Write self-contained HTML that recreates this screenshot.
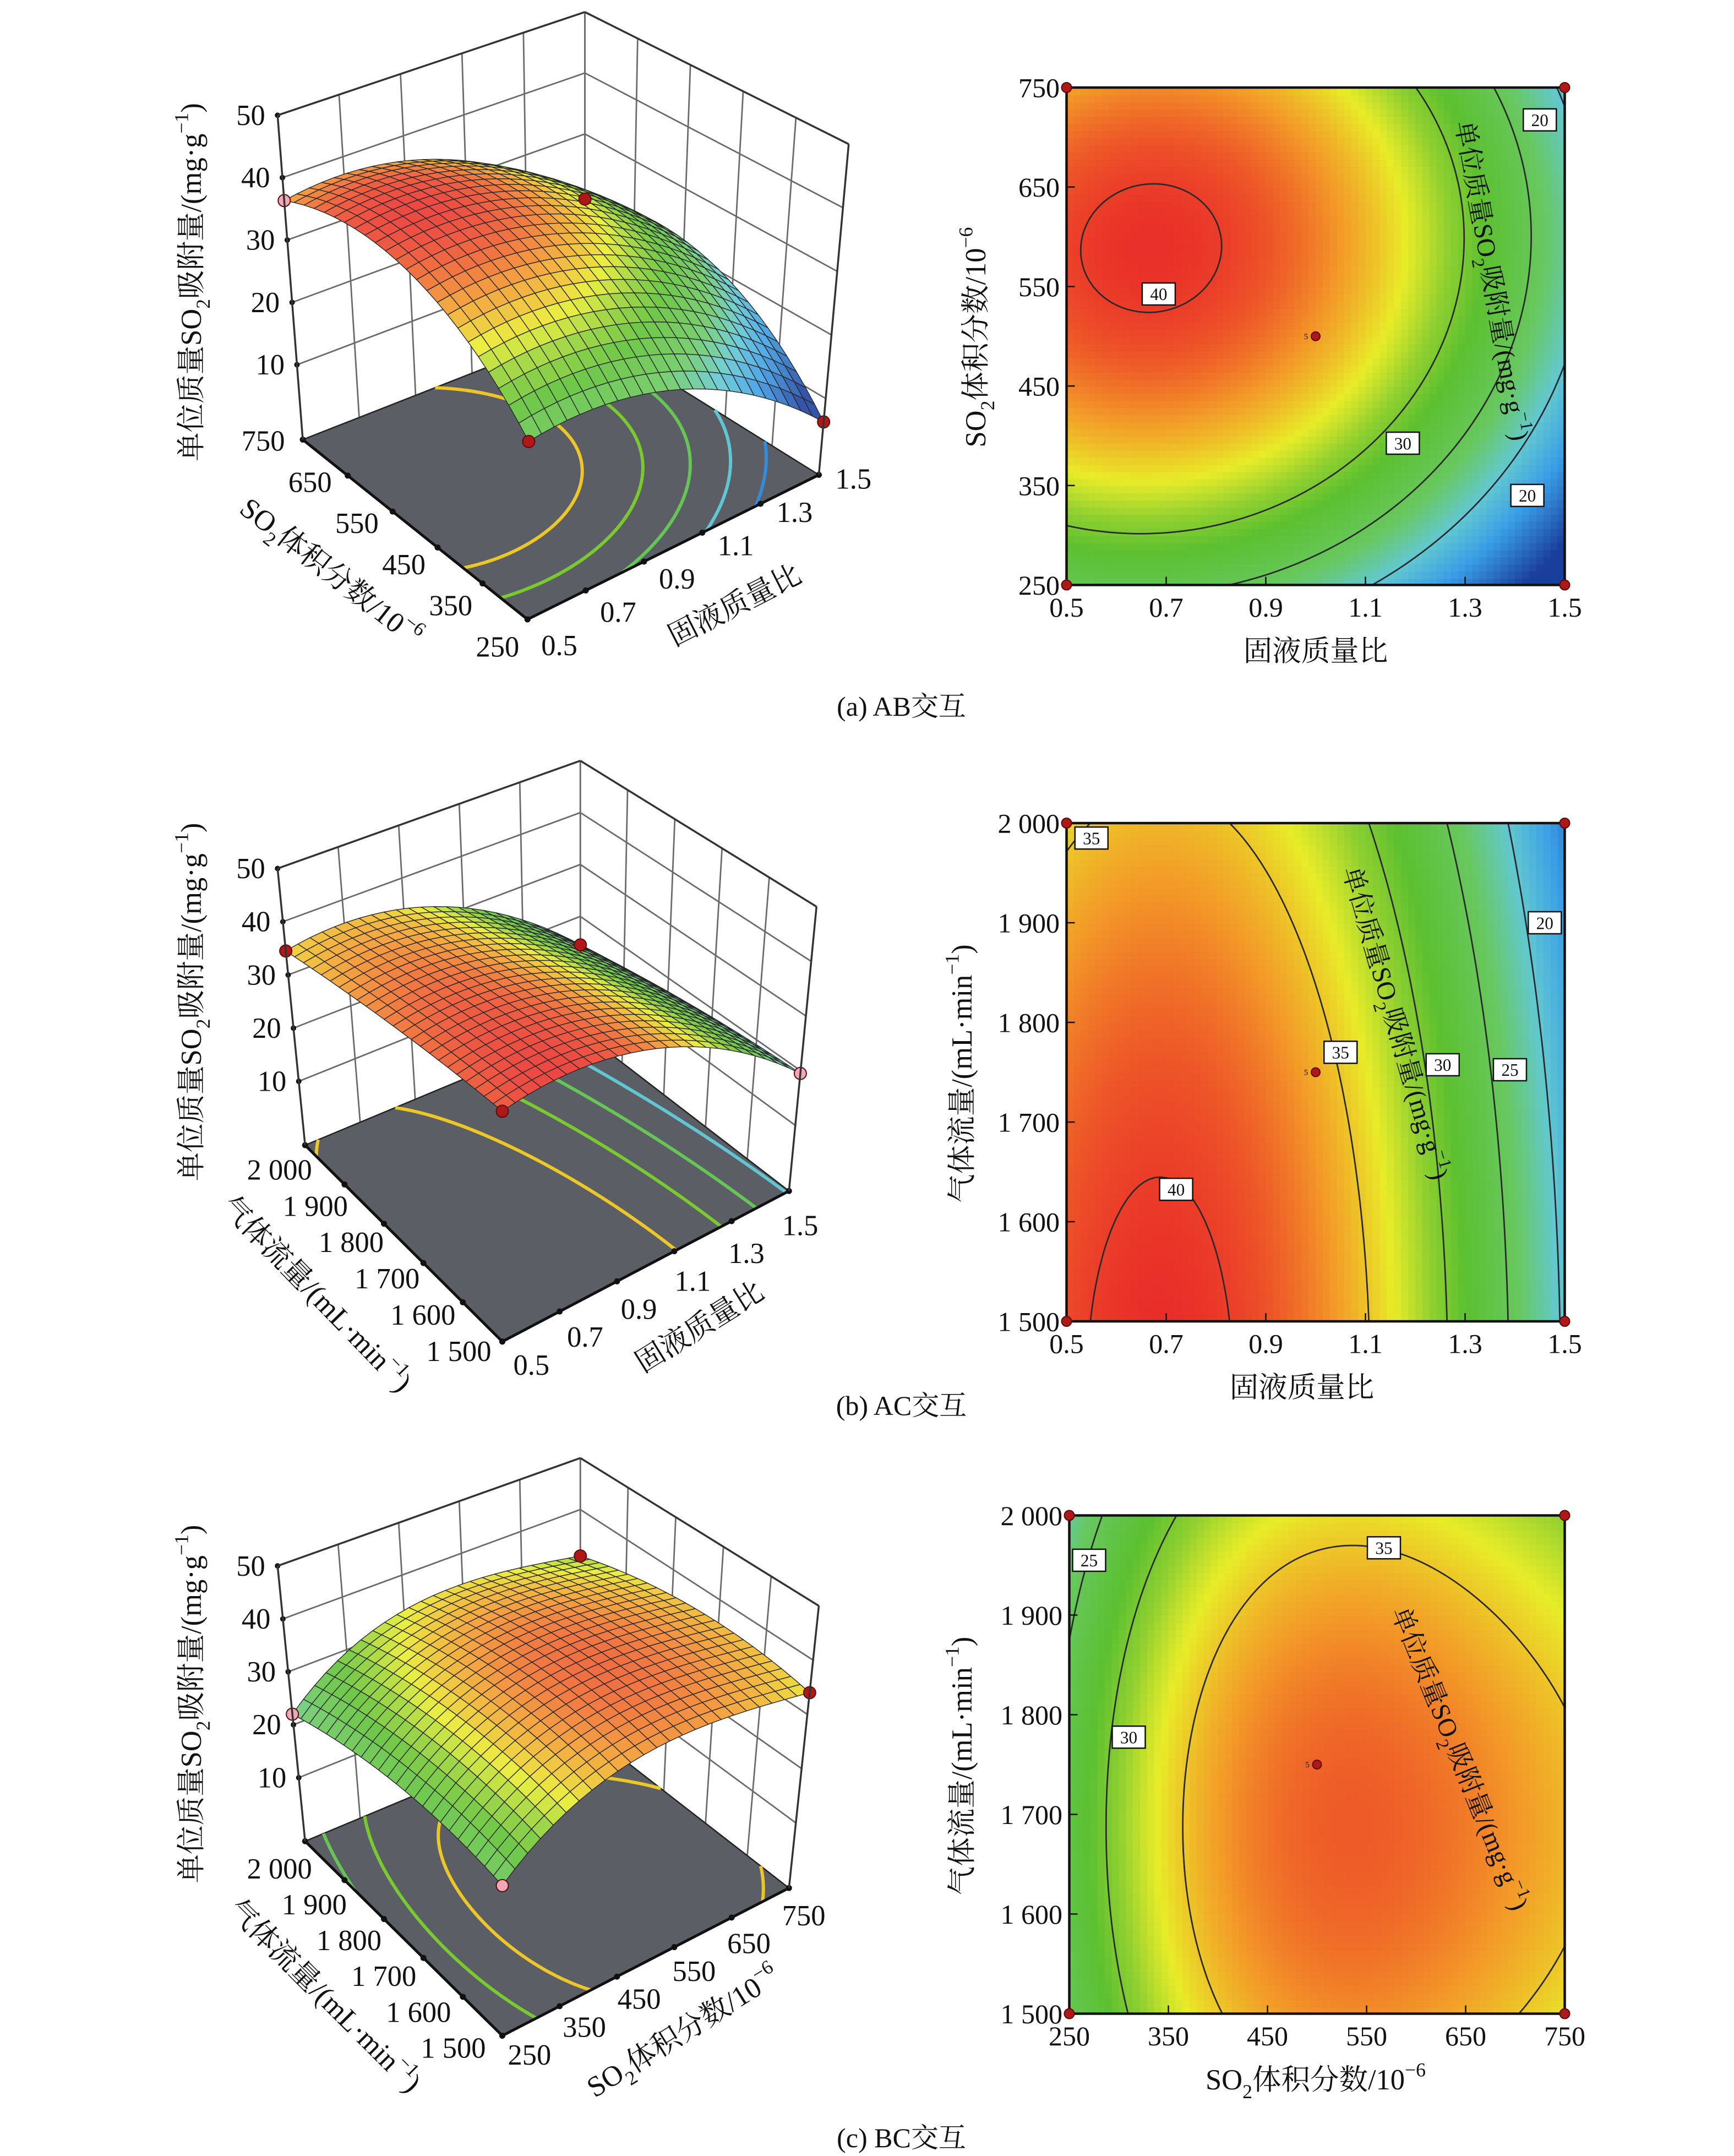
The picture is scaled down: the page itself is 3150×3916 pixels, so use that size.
<!DOCTYPE html>
<html><head><meta charset="utf-8">
<style>
html,body{margin:0;padding:0;background:#fff;}
svg{display:block;}
text{font-family:"Liberation Serif","Noto Serif CJK SC",serif;fill:#111;}
</style></head>
<body>
<svg id="fig" xmlns="http://www.w3.org/2000/svg" width="3150" height="3916" viewBox="0 0 1260 1566.4">
<rect x="0" y="0" width="1260" height="1566.4" fill="#fff"/>
</svg>
<script>
const NS='http://www.w3.org/2000/svg';
const svg=document.getElementById('fig');

// ---- model coefficients (coded -1..1): [b0, b1(x), b2(y), b11(x^2), b22(y^2), b12(xy), b111(x^3)]
const coefAB=[36.5,-9,6,-6.68,-8,0.5,0];
const coefAC=[36,-10,-2.5,-8,-1,0,0];
const coefBC=[38.5,2,-1.5,-7.5,-3,0,2.5];
// ---- contour levels
const levelsAB=[20,25,30,40];
const levelsAC=[20,25,30,35,40];
const levelsBC=[20,25,30,35];
const floorLevelsAB=[15,20,25,30,35];
const floorLevelsAC=[15,20,25,30,35];
const floorLevelsBC=[20,25,30,35];
// ---- tick labels
const ticksA=['0.5','0.7','0.9','1.1','1.3','1.5'];
const ticksB=['250','350','450','550','650','750'];
const ticksC=['1 500','1 600','1 700','1 800','1 900','2 000'];
const zTicks=[10,20,30,40,50];
// ---- contour label values and coded positions
const labelValsAB=['40','30','20','20'];
const labelXAB=[-0.63,0.35,0.9,0.85];
const labelYAB=[0.17,-0.43,0.87,-0.64];
const labelValsAC=['35','20','35','30','25','40'];
const labelXAC=[-0.9,0.92,0.1,0.51,0.78,-0.56];
const labelYAC=[0.94,0.6,0.08,0.03,0.01,-0.47];
const labelValsBC=['25','35','30'];
const labelXBC=[-0.92,0.27,-0.76];
const labelYBC=[0.82,0.87,0.11];

const VMIN=10, VMAX=41;

function model(c,x,y){return c[0]+c[1]*x+c[2]*y+c[3]*x*x+c[4]*y*y+c[5]*x*y+c[6]*x*x*x;}

const stops=[[0,[26,62,156]],[0.2,[58,158,230]],[0.33,[98,200,208]],[0.45,[104,200,96]],[0.6,[92,192,48]],[0.68,[144,208,48]],[0.76,[232,236,40]],[0.86,[243,154,40]],[0.93,[238,90,40]],[1,[232,36,42]]];
function cmap(t,light){
  t=Math.max(0,Math.min(1,t));
  let i=0;while(i<stops.length-2&&t>stops[i+1][0])i++;
  const a=stops[i],b=stops[i+1];const f=(t-a[0])/(b[0]-a[0]);
  const c=a[1].map((v,k)=>v+(b[1][k]-v)*f);
  const l=light||0;
  return 'rgb('+c.map(v=>Math.round(v+(255-v)*l)).join(',')+')';
}
function el(tag,a,p){const e=document.createElementNS(NS,tag);for(const k in a)e.setAttribute(k,a[k]);(p||svg).appendChild(e);return e;}
function rich(s,fs){
  let out='';const re=/\{([_^])(.*?)\}/g;let last=0,m,off=0;
  const push=(txt,dy,size)=>{out+='<tspan'+(dy?' dy="'+dy+'"':'')+(size?' font-size="'+size+'"':'')+'>'+txt+'</tspan>';};
  while((m=re.exec(s))){
    if(m.index>last){push(s.slice(last,m.index),-off||0,null);off=0;}
    const d=m[1]==='_'?0.3*fs:-0.45*fs;
    push(m[2],d,0.68*fs);off=d;last=re.lastIndex;
  }
  if(last<s.length)push(s.slice(last),-off||0,null);
  return out;
}
function txt(x,y,s,fs,anchor,rot,p){
  const t=el('text',{x:x,y:y,'font-size':fs,'text-anchor':anchor||'middle'},p);
  if(rot)t.setAttribute('transform','rotate('+rot+' '+x+' '+y+')');
  t.innerHTML=rich(s,fs);
  return t;
}
// marching squares
function contourPath(c,level,N,map){
  const v=[];for(let i=0;i<=N;i++){v[i]=[];for(let j=0;j<=N;j++)v[i][j]=model(c,-1+2*i/N,-1+2*j/N);}
  let d='';
  const pt=(i1,j1,i2,j2)=>{const a=v[i1][j1],b=v[i2][j2];const t=(level-a)/(b-a);
    const x=-1+2*(i1+(i2-i1)*t)/N,y=-1+2*(j1+(j2-j1)*t)/N;return map(x,y);};
  for(let i=0;i<N;i++)for(let j=0;j<N;j++){
    const cs=[[i,j],[i+1,j],[i+1,j+1],[i,j+1]];const ps=[];
    for(let k=0;k<4;k++){const A=cs[k],B=cs[(k+1)%4];const a=v[A[0]][A[1]],b=v[B[0]][B[1]];
      if((a<level)!==(b<level))ps.push(pt(A[0],A[1],B[0],B[1]));}
    for(let k=0;k+1<ps.length;k+=2)d+='M'+ps[k][0].toFixed(2)+' '+ps[k][1].toFixed(2)+'L'+ps[k+1][0].toFixed(2)+' '+ps[k+1][1].toFixed(2);
  }
  return d;
}

// ================= 2D contour plots =================
function draw2D(cfg){
  const g=el('g',{});
  
  
  const {x0,x1,y0,y1,coef}=cfg;
  const map=(x,y)=>[x0+(x+1)/2*(x1-x0),y1-(y+1)/2*(y1-y0)];
  const N=70,cw=(x1-x0)/N,ch=(y1-y0)/N;
  const hg=el('g',{},g);
  
  
  for(let i=0;i<N;i++)for(let j=0;j<N;j++){
    const val=model(coef,-1+2*(i+.5)/N,-1+2*(j+.5)/N);
    const r=el('rect',{x:(x0+i*cw).toFixed(2),y:(y1-(j+1)*ch).toFixed(2),width:(cw+0.6).toFixed(2),height:(ch+0.6).toFixed(2),fill:cmap((val-VMIN)/(VMAX-VMIN))},hg);
    
    
  }
  const cl=el('rect',{x:x1,y:y0-2,width:6,height:y1-y0+6,fill:'#fff'},g);
  
  
  const cl2=el('rect',{x:x0-2,y:y1,width:x1-x0+8,height:4,fill:'#fff'},g);
  
  
  cfg.levels.forEach(lv=>{
    const p=el('path',{d:contourPath(coef,lv,90,map),stroke:'#2a2a2a','stroke-width':1.1,fill:'none'},g);
    
    
  });
  const fr=el('rect',{x:x0,y:y0,width:x1-x0,height:y1-y0,fill:'none',stroke:'#111','stroke-width':1.8},g);
  
  
  for(let k=0;k<6;k++){
    const xx=x0+k*(x1-x0)/5,yy=y1-k*(y1-y0)/5;
    const t1=el('line',{x1:xx,y1:y1,x2:xx,y2:y1-6,stroke:'#111','stroke-width':1},g);
    
    
    const t2=el('line',{x1:x0,y1:yy,x2:x0+6,y2:yy,stroke:'#111','stroke-width':1},g);
    
    
    const lx=txt(xx,y1+23,cfg.xt[k],20,'middle',0,g);
    
    
    const ly=txt(x0-5,yy+7,cfg.yt[k],20,'end',0,g);
    
    
  }
  [[-1,-1],[1,-1],[-1,1],[1,1]].forEach(c=>{const p=map(c[0],c[1]);
    const d=el('circle',{cx:p[0],cy:p[1],r:3.6,fill:'#b01818',stroke:'#5a0a0a','stroke-width':0.8},g);
    
    });
  const cp=map(0,0);
  const cd=el('circle',{cx:cp[0],cy:cp[1],r:3.2,fill:'#b01818',stroke:'#5a0a0a','stroke-width':0.8},g);
  
  
  const c5=txt(cp[0]-7,cp[1]+2,'5',6,'middle',0,g);
  
  
  cfg.lv.forEach((s,k)=>{const p=map(cfg.lx[k],cfg.ly[k]);
    const r=el('rect',{x:p[0]-12,y:p[1]-8,width:24,height:16,fill:'#fff',stroke:'#111','stroke-width':1},g);
    
    
    const t=txt(p[0],p[1]+4.5,s,12.5,'middle',0,g);
    
    
  });
  const inl=txt(cfg.inl[0],cfg.inl[1],'单位质量SO{_2}吸附量/(mg·g{^−1})',19,'middle',cfg.inl[2],g);
  
  
  const xt=txt(cfg.xtitle[0],cfg.xtitle[1],cfg.xtitle[2],21,'middle',0,g);
  
  
  const yt=txt(cfg.ytitle[0],cfg.ytitle[1],cfg.ytitle[2],21,'middle',-90,g);
  
  
}

// ================= 3D surface plots =================
function lerp(a,b,t){return [a[0]+(b[0]-a[0])*t,a[1]+(b[1]-a[1])*t];}
function bil(q,u,v){return lerp(lerp(q[0],q[1],u),lerp(q[2],q[3],u),v);}
function draw3D(cfg){
  const g=el('g',{});
  
  
  const F=cfg.F,T=cfg.T;
  const P=(u,v,z)=>{const w=(z+2)/52;return lerp(bil(F,u,v),bil(T,u,v),w);};
  const L=(a,b,attrs,name)=>{const l=el('line',Object.assign({x1:a[0].toFixed(2),y1:a[1].toFixed(2),x2:b[0].toFixed(2),y2:b[1].toFixed(2)},attrs),g);
    
    return l;};
  const gs={stroke:'#6a6a6a','stroke-width':1.1};
  for(let k=0;k<=5;k++){
    L(P(k/5,1,-2),P(k/5,1,50),gs,'back-wall-gridline');
    L(P(1,k/5,-2),P(1,k/5,50),gs,'side-wall-gridline');
  }
  zTicks.forEach(z=>{
    L(P(0,1,z),P(1,1,z),gs,'back-wall-z-gridline');
    L(P(1,0,z),P(1,1,z),gs,'side-wall-z-gridline');
    const p=P(0,1,z);
    const d=el('circle',{cx:p[0],cy:p[1],r:2,fill:'#111'},g);
    
    
    const t=txt(p[0]-9,p[1]+7,String(z),21,'end',0,g);
    
    
  });
  const fc=[P(0,0,-2),P(1,0,-2),P(1,1,-2),P(0,1,-2)];
  const fl=el('polygon',{points:fc.map(p=>p.join(',')).join(' '),fill:'#5b5e64',stroke:'#222','stroke-width':1},g);
  
  
  cfg.floorLevels.forEach(lv=>{
    const p=el('path',{d:contourPath(cfg.coef,lv,70,(x,y)=>P((x+1)/2,(y+1)/2,-2)),stroke:cmap((lv-VMIN)/(VMAX-VMIN)),'stroke-width':2.4,fill:'none'},g);
    
    
  });
  L(fc[0],fc[3],{stroke:'#111','stroke-width':2},'v-axis-line');
  L(fc[0],fc[1],{stroke:'#111','stroke-width':2},'u-axis-line');
  for(let k=0;k<6;k++){
    const pv=P(0,k/5,-2),pu=P(k/5,0,-2);
    [pv,pu].forEach(p=>{const d=el('circle',{cx:p[0],cy:p[1],r:2.2,fill:'#111'},g);
      
      });
    const t=k/5;
    const ov=lerp(cfg.vOff[0],cfg.vOff[1],t);
    const tv=txt(pv[0]+ov[0],pv[1]+ov[1],cfg.vt[k],21,'end',0,g);
    
    
    const ou=lerp(cfg.uOff[0],cfg.uOff[1],t);
    const tu=txt(pu[0]+ou[0],pu[1]+ou[1],cfg.ut[k],21,'start',0,g);
    
    
  }
  const N=24;const quads=[];
  for(let i=0;i<N;i++)for(let j=0;j<N;j++)quads.push([i,j]);
  quads.sort((a,b)=>(b[0]+b[1])-(a[0]+a[1]));
  const sg=el('g',{},g);
  
  
  const zv=(i,j)=>model(cfg.coef,-1+2*i/N,-1+2*j/N);
  quads.forEach(([i,j])=>{
    const cs=[[i,j],[i+1,j],[i+1,j+1],[i,j+1]];
    let s=0;const pts=cs.map(c=>{const z=zv(c[0],c[1]);s+=z;return P(c[0]/N,c[1]/N,z);});
    const q=el('polygon',{points:pts.map(p=>p[0].toFixed(2)+','+p[1].toFixed(2)).join(' '),fill:cmap((s/4-VMIN)/(VMAX-VMIN),0.12),stroke:'#262626','stroke-width':0.55,'stroke-linejoin':'round'},sg);
    
    
  });
  const dp=[[0,0],[1,0],[0,1],[1,1]];
  dp.forEach((c,k)=>{const p=P(c[0],c[1],model(cfg.coef,2*c[0]-1,2*c[1]-1));
    const d=el('circle',{cx:p[0],cy:p[1],r:4.4,fill:cfg.dotCol[k],stroke:'#5a0a0a','stroke-width':0.8},g);
    
    });
  L(P(0,1,-2),P(0,1,50),{stroke:'#333','stroke-width':1.4},'z-axis-line');
  L(P(0,1,50),P(1,1,50),{stroke:'#333','stroke-width':1.4},'box-top-edge');
  L(P(1,1,50),P(1,0,50),{stroke:'#333','stroke-width':1.4},'box-top-edge');
  L(P(1,0,-2),P(1,0,50),{stroke:'#333','stroke-width':1.4},'box-right-edge');
  const zt=txt(cfg.zTitle[0],cfg.zTitle[1],'单位质量SO{_2}吸附量/(mg·g{^−1})',21,'middle',-90,g);
  
  
  const vt=txt(cfg.vTitle[0],cfg.vTitle[1],cfg.vTitle[3],21,'middle',cfg.vTitle[2],g);
  
  
  const ut=txt(cfg.uTitle[0],cfg.uTitle[1],cfg.uTitle[3],21,'middle',cfg.uTitle[2],g);
  
  
}

// ---- Panel (a)
draw3D({name:'surface-plot-ab',coef:coefAB,floorLevels:floorLevelsAB,
  F:[[383.3,450],[595,345],[220,319.4],[425,239]],T:[[385,204],[616.7,104.7],[201.7,83.75],[425,8.75]],
  vt:ticksB,ut:ticksA,vOff:[[-6,27],[-13,8]],uOff:[[10,26],[12,10]],
  dotCol:['#b01818','#b01818','#f0a8b8','#b01818'],
  zTitle:[146,205],vTitle:[236,421,38,'SO{_2}体积分数/10{^−6}'],uTitle:[537,446,-27,'固液质量比']});
draw2D({name:'contour-plot-ab',x0:775,x1:1137,y0:63.6,y1:425,coef:coefAB,levels:levelsAB,
  xt:ticksA,yt:ticksB,lv:labelValsAB,lx:labelXAB,ly:labelYAB,inl:[1078,205,80],
  xtitle:[956,480,'固液质量比'],ytitle:[716,245,'SO{_2}体积分数/10{^−6}']});
const capA=txt(655,520,'(a) AB交互',20,'middle',0);



// ---- Panel (b)
draw3D({name:'surface-plot-ac',coef:coefAC,floorLevels:floorLevelsAC,
  F:[[365,974.7],[573.3,865.3],[221.7,832],[421.7,748.7]],T:[[365,765],[593.3,658.7],[201.7,631],[421.7,552.7]],
  vt:ticksC,ut:ticksA,vOff:[[-8,14],[5,25]],uOff:[[8,24],[-5,32]],
  dotCol:['#b01818','#f0a8b8','#b01818','#b01818'],
  zTitle:[146,728],vTitle:[225,945,46,'气体流量/(mL·min{^−1})'],uTitle:[512,970,-32,'固液质量比']});
draw2D({name:'contour-plot-ac',x0:775,x1:1137,y0:598,y1:960,coef:coefAC,levels:levelsAC,
  xt:ticksA,yt:ticksC,lv:labelValsAC,lx:labelXAC,ly:labelYAC,inl:[1008,745,74],
  xtitle:[946,1015,'固液质量比'],ytitle:[706,780,'气体流量/(mL·min{^−1})']});
const capB=txt(655,1028,'(b) AC交互',20,'middle',0);



// ---- Panel (c)
draw3D({name:'surface-plot-bc',coef:coefBC,floorLevels:floorLevelsBC,
  F:[[365,1479],[573.3,1371.7],[221.7,1337.7],[421.7,1254]],T:[[365,1269],[595,1166.7],[201.7,1137.7],[421.7,1059.3]],
  vt:ticksC,ut:ticksB,vOff:[[-12,16],[5,27]],uOff:[[4,21],[-5,27]],
  dotCol:['#f0a8b8','#b01818','#f0a8b8','#b01818'],
  zTitle:[146,1238],vTitle:[231,1455,45,'气体流量/(mL·min{^−1})'],uTitle:[500,1482,-32,'SO{_2}体积分数/10{^−6}']});
draw2D({name:'contour-plot-bc',x0:777,x1:1137,y0:1101,y1:1463,coef:coefBC,levels:levelsBC,
  xt:ticksB,yt:ticksC,lv:labelValsBC,lx:labelXBC,ly:labelYBC,inl:[1055,1280,68],
  xtitle:[956,1518,'SO{_2}体积分数/10{^−6}'],ytitle:[706,1283,'气体流量/(mL·min{^−1})']});
const capC=txt(655,1560,'(c) BC交互',20,'middle',0);


</script>
</body></html>
